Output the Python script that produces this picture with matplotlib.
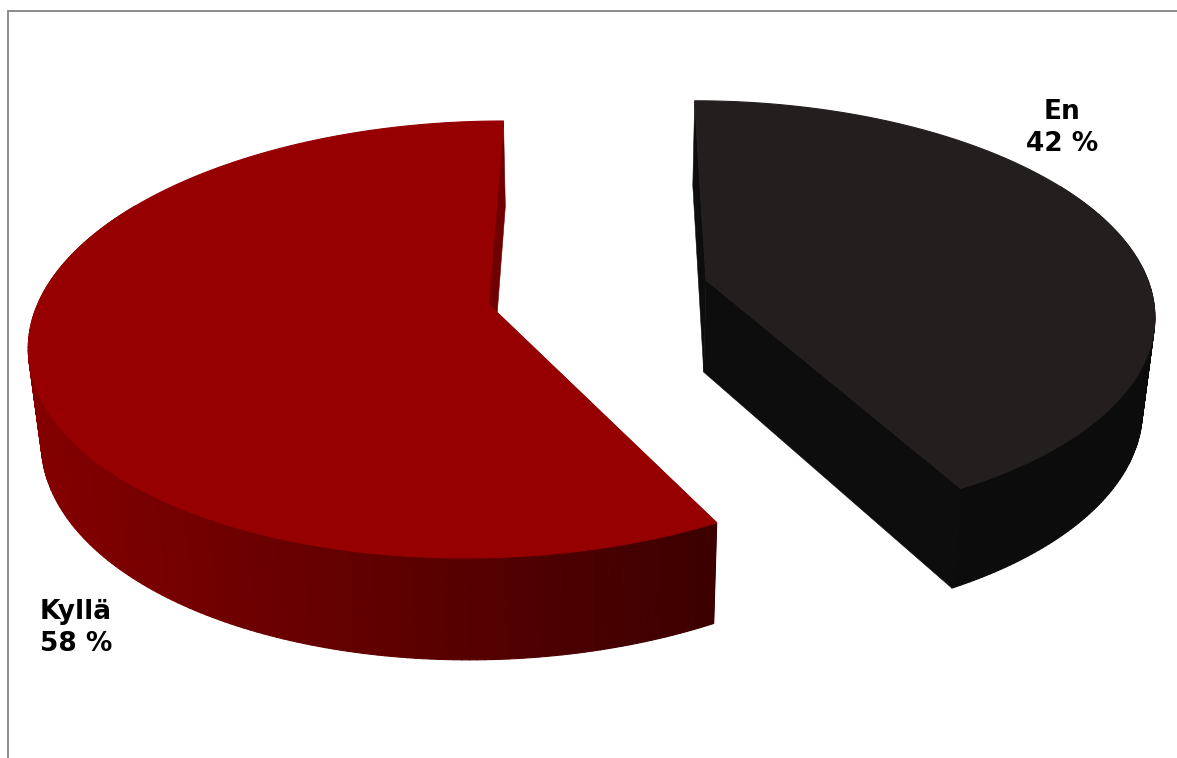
import matplotlib

matplotlib.use("Agg")
import matplotlib.pyplot as plt
import numpy as np
from matplotlib.collections import PolyCollection
from matplotlib.colors import to_rgb
from matplotlib.patches import Polygon

labels = ["En", "Kyllä"]
shares = [42, 58]
label_pos = [(1062, 128), (76, 628)]

TOP_COLORS = ["#231f1e", "#960000"]
CUT_COLORS = ["#0e0d0d", "#700000"]
# wall colour at the slice's first rim point and at the far end of its width
SIDE_COLORS = [("#0d0c0c", "#0d0c0c"), ("#3c0000", "#840000")]
FRAME = "#8c8c8c"

W, H = 1177, 758

# camera set-up for the tilted pie, all in figure pixels
CX, CY = 597.2, 295.1
RX, RY = 447.1, 210.3
DEPTH = 94.8
SKEW = 3.0
PERSP_Y, PERSP_Z = 0.1412, 0.0225
EXPLODE = 0.2515
START = 0.0
# small nudge of each slice's hub along the base plane
HUB_SHIFT = [(0.002, 0.01), (0.002, 0.02)]


def project(x, y, z):
    # z is 0 on the top face and 1 on the bottom face
    w = 1 + PERSP_Y * y + PERSP_Z * z
    return CX + (RX * x + SKEW * y) / w, CY - (RY * y - DEPTH * z) / w


def draw_slice(ax, a0, a1, top, cut, side, hub_shift):
    mid = np.radians((a0 + a1) / 2)
    ox, oy = EXPLODE * np.sin(mid), EXPLODE * np.cos(mid)
    t = np.radians(np.linspace(a0, a1, 241))
    xs, ys = ox + np.sin(t), oy + np.cos(t)
    hx, hy = ox + hub_shift[0], oy + hub_shift[1]

    # cut faces first, the wall and the top face cover whichever points away
    for rx, ry in [(xs[0], ys[0]), (xs[-1], ys[-1])]:
        face = [project(hx, hy, 0), project(rx, ry, 0), project(rx, ry, 1), project(hx, hy, 1)]
        ax.add_patch(Polygon(face, closed=True, fc=cut, ec=cut, lw=0.4))

    # outer wall as narrow quads, shaded across the slice's screen width
    tx, ty = project(xs, ys, 0)
    c0, c1 = np.array(to_rgb(side[0])), np.array(to_rgb(side[1]))
    quads, cols = [], []
    for i in range(len(xs) - 1):
        # the back of the rim is hidden by the top face
        if np.cos(t[i]) > 0.5:
            continue
        ux, uy = project(xs[i : i + 2], ys[i : i + 2], 0)
        lx, ly = project(xs[i : i + 2], ys[i : i + 2], 1)
        quads.append([(ux[0], uy[0]), (ux[1], uy[1]), (lx[1], ly[1]), (lx[0], ly[0])])
        cols.append(c0 + (c1 - c0) * abs(tx[i] - tx[0]) / np.ptp(tx))
    ax.add_collection(PolyCollection(quads, facecolors=cols, edgecolors=cols, linewidths=0.8))

    outline = [project(hx, hy, 0)] + list(zip(tx, ty))
    ax.add_patch(Polygon(outline, closed=True, fc=top, ec=top, lw=0.8))


fig = plt.figure(figsize=(W / 100, H / 100), dpi=100)
ax = fig.add_axes([0, 0, 1, 1])
ax.set_xlim(0, W)
ax.set_ylim(H, 0)
ax.axis("off")

ax.plot([8, 8, W], [H, 11, 11], color=FRAME, lw=1.4, solid_joinstyle="miter")

angle = START
for i, share in enumerate(shares):
    sweep = 360 * share / sum(shares)
    draw_slice(ax, angle, angle + sweep, TOP_COLORS[i], CUT_COLORS[i], SIDE_COLORS[i], HUB_SHIFT[i])
    angle += sweep

for name, share, (x, y) in zip(labels, shares, label_pos):
    ax.text(x, y, f"{name}\n{share} %", ha="center", va="center", fontsize=19,
            fontweight="bold", family="DejaVu Sans", color="black", linespacing=1.3)

fig.savefig("out.png", dpi=100)
